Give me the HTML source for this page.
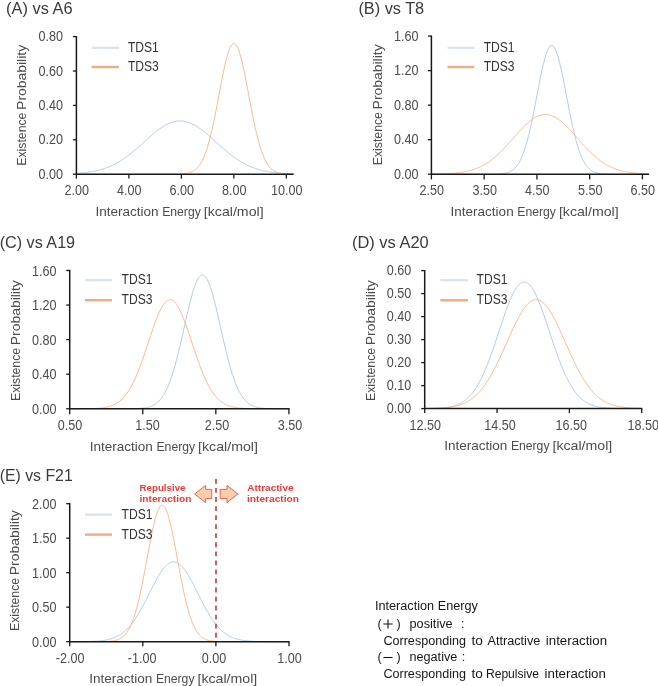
<!DOCTYPE html>
<html><head><meta charset="utf-8"><title>Interaction energy distributions</title>
<style>
html,body{margin:0;padding:0;background:#fff;}
body{width:658px;height:686px;overflow:hidden;}
svg{display:block;font-family:"Liberation Sans",sans-serif;will-change:transform;}
</style></head><body>
<svg width="658" height="686" viewBox="0 0 658 686">
<rect width="658" height="686" fill="#fff"/>
<g>
<text x="6.1" y="14.1" font-size="16.0" fill="#3a3a3a" textLength="66.5" lengthAdjust="spacingAndGlyphs">(A) vs A6</text>
<path d="M76.40,173.39 L77.24,173.34 L78.07,173.28 L78.91,173.22 L79.74,173.15 L80.58,173.08 L81.41,173.00 L82.25,172.92 L83.08,172.84 L83.92,172.75 L84.75,172.66 L85.59,172.56 L86.42,172.46 L87.26,172.35 L88.10,172.23 L88.93,172.11 L89.77,171.99 L90.60,171.85 L91.44,171.71 L92.27,171.56 L93.11,171.41 L93.94,171.25 L94.78,171.08 L95.61,170.90 L96.45,170.71 L97.28,170.52 L98.12,170.32 L98.96,170.11 L99.79,169.88 L100.63,169.65 L101.46,169.41 L102.30,169.16 L103.13,168.90 L103.97,168.63 L104.80,168.35 L105.64,168.06 L106.47,167.75 L107.31,167.44 L108.14,167.11 L108.98,166.77 L109.82,166.42 L110.65,166.06 L111.49,165.69 L112.32,165.30 L113.16,164.90 L113.99,164.49 L114.83,164.06 L115.66,163.63 L116.50,163.18 L117.33,162.71 L118.17,162.24 L119.00,161.75 L119.84,161.25 L120.68,160.73 L121.51,160.20 L122.35,159.66 L123.18,159.11 L124.02,158.54 L124.85,157.96 L125.69,157.37 L126.52,156.77 L127.36,156.16 L128.19,155.53 L129.03,154.90 L129.86,154.25 L130.70,153.59 L131.54,152.92 L132.37,152.24 L133.21,151.56 L134.04,150.86 L134.88,150.16 L135.71,149.44 L136.55,148.72 L137.38,148.00 L138.22,147.27 L139.05,146.53 L139.89,145.79 L140.72,145.04 L141.56,144.29 L142.40,143.54 L143.23,142.79 L144.07,142.03 L144.90,141.28 L145.74,140.52 L146.57,139.77 L147.41,139.02 L148.24,138.27 L149.08,137.53 L149.91,136.79 L150.75,136.06 L151.58,135.34 L152.42,134.62 L153.26,133.91 L154.09,133.21 L154.93,132.52 L155.76,131.84 L156.60,131.18 L157.43,130.53 L158.27,129.89 L159.10,129.27 L159.94,128.67 L160.77,128.08 L161.61,127.51 L162.44,126.95 L163.28,126.42 L164.12,125.91 L164.95,125.42 L165.79,124.95 L166.62,124.50 L167.46,124.08 L168.29,123.68 L169.13,123.30 L169.96,122.96 L170.80,122.63 L171.63,122.33 L172.47,122.06 L173.30,121.82 L174.14,121.60 L174.98,121.41 L175.81,121.25 L176.65,121.12 L177.48,121.02 L178.32,120.94 L179.15,120.90 L179.99,120.88 L180.82,120.89 L181.66,120.93 L182.49,121.00 L183.33,121.10 L184.16,121.23 L185.00,121.39 L185.84,121.57 L186.67,121.79 L187.51,122.03 L188.34,122.29 L189.18,122.59 L190.01,122.91 L190.85,123.25 L191.68,123.62 L192.52,124.02 L193.35,124.44 L194.19,124.88 L195.02,125.35 L195.86,125.84 L196.70,126.35 L197.53,126.88 L198.37,127.43 L199.20,127.99 L200.04,128.58 L200.87,129.18 L201.71,129.80 L202.54,130.44 L203.38,131.09 L204.21,131.75 L205.05,132.42 L205.88,133.11 L206.72,133.81 L207.56,134.51 L208.39,135.23 L209.23,135.96 L210.06,136.69 L210.90,137.42 L211.73,138.17 L212.57,138.91 L213.40,139.66 L214.24,140.41 L215.07,141.17 L215.91,141.92 L216.74,142.68 L217.58,143.43 L218.42,144.18 L219.25,144.93 L220.09,145.68 L220.92,146.42 L221.76,147.16 L222.59,147.89 L223.43,148.62 L224.26,149.34 L225.10,150.05 L225.93,150.76 L226.77,151.46 L227.60,152.14 L228.44,152.82 L229.28,153.49 L230.11,154.15 L230.95,154.80 L231.78,155.44 L232.62,156.07 L233.45,156.68 L234.29,157.29 L235.12,157.88 L235.96,158.46 L236.79,159.03 L237.63,159.58 L238.46,160.13 L239.30,160.66 L240.14,161.17 L240.97,161.68 L241.81,162.17 L242.64,162.65 L243.48,163.11 L244.31,163.56 L245.15,164.00 L245.98,164.43 L246.82,164.84 L247.65,165.24 L248.49,165.63 L249.32,166.01 L250.16,166.37 L251.00,166.72 L251.83,167.06 L252.67,167.39 L253.50,167.71 L254.34,168.01 L255.17,168.31 L256.01,168.59 L256.84,168.86 L257.68,169.13 L258.51,169.38 L259.35,169.62 L260.18,169.85 L261.02,170.07 L261.86,170.29 L262.69,170.49 L263.53,170.69 L264.36,170.87 L265.20,171.05 L266.03,171.22 L266.87,171.39 L267.70,171.54 L268.54,171.69 L269.37,171.83 L270.21,171.97 L271.04,172.09 L271.88,172.22 L272.72,172.33 L273.55,172.44 L274.39,172.55 L275.22,172.65 L276.06,172.74 L276.89,172.83 L277.73,172.91 L278.56,172.99 L279.40,173.07 L280.23,173.14 L281.07,173.21 L281.90,173.27 L282.74,173.33 L283.58,173.39 L284.41,173.44 L285.25,173.49 L286.08,173.54 L286.92,173.58 L287.75,173.62 L288.59,173.66 L289.42,173.70 L290.26,173.73 L291.09,173.77 L291.93,173.80 L292.76,173.83 L293.60,173.85" fill="none" stroke="#a8c6e5" stroke-width="0.9"/>
<path d="M76.40,174.20 L77.24,174.20 L78.07,174.20 L78.91,174.20 L79.74,174.20 L80.58,174.20 L81.41,174.20 L82.25,174.20 L83.08,174.20 L83.92,174.20 L84.75,174.20 L85.59,174.20 L86.42,174.20 L87.26,174.20 L88.10,174.20 L88.93,174.20 L89.77,174.20 L90.60,174.20 L91.44,174.20 L92.27,174.20 L93.11,174.20 L93.94,174.20 L94.78,174.20 L95.61,174.20 L96.45,174.20 L97.28,174.20 L98.12,174.20 L98.96,174.20 L99.79,174.20 L100.63,174.20 L101.46,174.20 L102.30,174.20 L103.13,174.20 L103.97,174.20 L104.80,174.20 L105.64,174.20 L106.47,174.20 L107.31,174.20 L108.14,174.20 L108.98,174.20 L109.82,174.20 L110.65,174.20 L111.49,174.20 L112.32,174.20 L113.16,174.20 L113.99,174.20 L114.83,174.20 L115.66,174.20 L116.50,174.20 L117.33,174.20 L118.17,174.20 L119.00,174.20 L119.84,174.20 L120.68,174.20 L121.51,174.20 L122.35,174.20 L123.18,174.20 L124.02,174.20 L124.85,174.20 L125.69,174.20 L126.52,174.20 L127.36,174.20 L128.19,174.20 L129.03,174.20 L129.86,174.20 L130.70,174.20 L131.54,174.20 L132.37,174.20 L133.21,174.20 L134.04,174.20 L134.88,174.20 L135.71,174.20 L136.55,174.20 L137.38,174.20 L138.22,174.20 L139.05,174.20 L139.89,174.20 L140.72,174.20 L141.56,174.20 L142.40,174.20 L143.23,174.20 L144.07,174.20 L144.90,174.20 L145.74,174.20 L146.57,174.20 L147.41,174.20 L148.24,174.20 L149.08,174.20 L149.91,174.20 L150.75,174.20 L151.58,174.20 L152.42,174.20 L153.26,174.20 L154.09,174.20 L154.93,174.20 L155.76,174.20 L156.60,174.20 L157.43,174.20 L158.27,174.20 L159.10,174.20 L159.94,174.20 L160.77,174.20 L161.61,174.20 L162.44,174.20 L163.28,174.20 L164.12,174.20 L164.95,174.20 L165.79,174.20 L166.62,174.20 L167.46,174.19 L168.29,174.19 L169.13,174.19 L169.96,174.19 L170.80,174.18 L171.63,174.18 L172.47,174.17 L173.30,174.17 L174.14,174.16 L174.98,174.15 L175.81,174.13 L176.65,174.12 L177.48,174.10 L178.32,174.08 L179.15,174.05 L179.99,174.01 L180.82,173.97 L181.66,173.92 L182.49,173.86 L183.33,173.79 L184.16,173.70 L185.00,173.60 L185.84,173.48 L186.67,173.34 L187.51,173.18 L188.34,172.98 L189.18,172.76 L190.01,172.49 L190.85,172.19 L191.68,171.84 L192.52,171.44 L193.35,170.98 L194.19,170.45 L195.02,169.85 L195.86,169.17 L196.70,168.41 L197.53,167.55 L198.37,166.58 L199.20,165.50 L200.04,164.30 L200.87,162.98 L201.71,161.51 L202.54,159.90 L203.38,158.13 L204.21,156.20 L205.05,154.10 L205.88,151.83 L206.72,149.38 L207.56,146.75 L208.39,143.93 L209.23,140.93 L210.06,137.75 L210.90,134.39 L211.73,130.86 L212.57,127.16 L213.40,123.31 L214.24,119.32 L215.07,115.20 L215.91,110.97 L216.74,106.65 L217.58,102.26 L218.42,97.83 L219.25,93.38 L220.09,88.93 L220.92,84.53 L221.76,80.20 L222.59,75.97 L223.43,71.87 L224.26,67.94 L225.10,64.20 L225.93,60.69 L226.77,57.44 L227.60,54.47 L228.44,51.81 L229.28,49.49 L230.11,47.52 L230.95,45.93 L231.78,44.73 L232.62,43.92 L233.45,43.52 L234.29,43.54 L235.12,43.97 L235.96,44.80 L236.79,46.03 L237.63,47.65 L238.46,49.64 L239.30,51.99 L240.14,54.67 L240.97,57.66 L241.81,60.94 L242.64,64.46 L243.48,68.22 L244.31,72.16 L245.15,76.27 L245.98,80.51 L246.82,84.85 L247.65,89.25 L248.49,93.69 L249.32,98.14 L250.16,102.57 L251.00,106.96 L251.83,111.27 L252.67,115.50 L253.50,119.61 L254.34,123.59 L255.17,127.43 L256.01,131.12 L256.84,134.64 L257.68,137.99 L258.51,141.15 L259.35,144.14 L260.18,146.94 L261.02,149.56 L261.86,152.00 L262.69,154.26 L263.53,156.34 L264.36,158.26 L265.20,160.02 L266.03,161.62 L266.87,163.08 L267.70,164.40 L268.54,165.58 L269.37,166.65 L270.21,167.61 L271.04,168.47 L271.88,169.22 L272.72,169.90 L273.55,170.49 L274.39,171.01 L275.22,171.47 L276.06,171.87 L276.89,172.21 L277.73,172.51 L278.56,172.77 L279.40,173.00 L280.23,173.19 L281.07,173.35 L281.90,173.49 L282.74,173.61 L283.58,173.71 L284.41,173.79 L285.25,173.87 L286.08,173.93 L286.92,173.97 L287.75,174.02 L288.59,174.05 L289.42,174.08 L290.26,174.10 L291.09,174.12 L291.93,174.14 L292.76,174.15 L293.60,174.16" fill="none" stroke="#f3b38e" stroke-width="0.9"/>
<path d="M76.40,35.90 V174.20 H293.60" fill="none" stroke="#1a1a1a" stroke-width="1.5"/>
<path d="M76.40,174.20 h-3.5" stroke="#1a1a1a" stroke-width="1.3"/>
<text x="38.4" y="178.7" font-size="14.0" fill="#4c4c4c" textLength="24.52" lengthAdjust="spacingAndGlyphs">0.00</text>
<path d="M76.40,139.80 h-3.5" stroke="#1a1a1a" stroke-width="1.3"/>
<text x="38.4" y="144.3" font-size="14.0" fill="#4c4c4c" textLength="24.52" lengthAdjust="spacingAndGlyphs">0.20</text>
<path d="M76.40,105.40 h-3.5" stroke="#1a1a1a" stroke-width="1.3"/>
<text x="38.4" y="109.9" font-size="14.0" fill="#4c4c4c" textLength="24.52" lengthAdjust="spacingAndGlyphs">0.40</text>
<path d="M76.40,71.00 h-3.5" stroke="#1a1a1a" stroke-width="1.3"/>
<text x="38.4" y="75.5" font-size="14.0" fill="#4c4c4c" textLength="24.52" lengthAdjust="spacingAndGlyphs">0.60</text>
<path d="M76.40,36.60 h-3.5" stroke="#1a1a1a" stroke-width="1.3"/>
<text x="38.4" y="41.1" font-size="14.0" fill="#4c4c4c" textLength="24.52" lengthAdjust="spacingAndGlyphs">0.80</text>
<path d="M76.40,174.20 v4.4" stroke="#1a1a1a" stroke-width="1.3"/>
<text x="64.6" y="195.0" font-size="14.0" fill="#4c4c4c" textLength="24.52" lengthAdjust="spacingAndGlyphs">2.00</text>
<path d="M128.88,174.20 v4.4" stroke="#1a1a1a" stroke-width="1.3"/>
<text x="117.1" y="195.0" font-size="14.0" fill="#4c4c4c" textLength="24.52" lengthAdjust="spacingAndGlyphs">4.00</text>
<path d="M181.36,174.20 v4.4" stroke="#1a1a1a" stroke-width="1.3"/>
<text x="169.6" y="195.0" font-size="14.0" fill="#4c4c4c" textLength="24.52" lengthAdjust="spacingAndGlyphs">6.00</text>
<path d="M233.84,174.20 v4.4" stroke="#1a1a1a" stroke-width="1.3"/>
<text x="222.1" y="195.0" font-size="14.0" fill="#4c4c4c" textLength="24.52" lengthAdjust="spacingAndGlyphs">8.00</text>
<path d="M286.32,174.20 v4.4" stroke="#1a1a1a" stroke-width="1.3"/>
<text x="271.1" y="195.0" font-size="14.0" fill="#4c4c4c" textLength="31.53" lengthAdjust="spacingAndGlyphs">10.00</text>
<text x="95.45" y="216.2" font-size="12.4" fill="#4c4c4c" textLength="63.1" lengthAdjust="spacingAndGlyphs">Interaction</text>
<text x="162.20" y="216.2" font-size="12.4" fill="#4c4c4c" textLength="38.6" lengthAdjust="spacingAndGlyphs">Energy</text>
<text x="203.80" y="216.2" font-size="12.4" fill="#4c4c4c" textLength="59.8" lengthAdjust="spacingAndGlyphs">[kcal/mol]</text>
<text transform="translate(26.3,165.70) rotate(-90)" font-size="12" fill="#4c4c4c" textLength="53.1" lengthAdjust="spacingAndGlyphs">Existence</text>
<text transform="translate(26.3,109.90) rotate(-90)" font-size="12" fill="#4c4c4c" textLength="65.0" lengthAdjust="spacingAndGlyphs">Probability</text>
<path d="M91.60,47.80 H119.00" stroke="#dbe5f1" stroke-width="2.4"/>
<text x="127.9" y="51.9" font-size="14.0" fill="#333" textLength="30.9" lengthAdjust="spacingAndGlyphs">TDS1</text>
<path d="M91.60,67.00 H119.00" stroke="#efab82" stroke-width="2.4"/>
<text x="127.9" y="71.1" font-size="14.0" fill="#333" textLength="30.9" lengthAdjust="spacingAndGlyphs">TDS3</text>
</g>
<g>
<text x="358.4" y="14.3" font-size="16.0" fill="#3a3a3a" textLength="65.8" lengthAdjust="spacingAndGlyphs">(B) vs T8</text>
<path d="M431.40,174.20 L432.24,174.20 L433.07,174.20 L433.91,174.20 L434.75,174.20 L435.59,174.20 L436.42,174.20 L437.26,174.20 L438.10,174.20 L438.94,174.20 L439.77,174.20 L440.61,174.20 L441.45,174.20 L442.28,174.20 L443.12,174.20 L443.96,174.20 L444.80,174.20 L445.63,174.20 L446.47,174.20 L447.31,174.20 L448.15,174.20 L448.98,174.20 L449.82,174.20 L450.66,174.20 L451.50,174.20 L452.33,174.20 L453.17,174.20 L454.01,174.20 L454.84,174.20 L455.68,174.20 L456.52,174.20 L457.36,174.20 L458.19,174.20 L459.03,174.20 L459.87,174.20 L460.71,174.20 L461.54,174.20 L462.38,174.20 L463.22,174.20 L464.06,174.20 L464.89,174.20 L465.73,174.20 L466.57,174.20 L467.40,174.20 L468.24,174.20 L469.08,174.20 L469.92,174.20 L470.75,174.20 L471.59,174.20 L472.43,174.20 L473.27,174.20 L474.10,174.20 L474.94,174.20 L475.78,174.20 L476.61,174.20 L477.45,174.20 L478.29,174.20 L479.13,174.20 L479.96,174.20 L480.80,174.20 L481.64,174.20 L482.48,174.20 L483.31,174.20 L484.15,174.20 L484.99,174.19 L485.82,174.19 L486.66,174.19 L487.50,174.19 L488.34,174.19 L489.17,174.18 L490.01,174.18 L490.85,174.17 L491.69,174.16 L492.52,174.15 L493.36,174.14 L494.20,174.13 L495.04,174.11 L495.87,174.09 L496.71,174.06 L497.55,174.03 L498.38,173.99 L499.22,173.94 L500.06,173.89 L500.90,173.82 L501.73,173.74 L502.57,173.65 L503.41,173.53 L504.25,173.40 L505.08,173.25 L505.92,173.06 L506.76,172.85 L507.59,172.60 L508.43,172.32 L509.27,171.99 L510.11,171.60 L510.94,171.17 L511.78,170.67 L512.62,170.10 L513.46,169.45 L514.29,168.72 L515.13,167.90 L515.97,166.98 L516.81,165.95 L517.64,164.80 L518.48,163.52 L519.32,162.11 L520.15,160.56 L520.99,158.85 L521.83,156.99 L522.67,154.97 L523.50,152.77 L524.34,150.40 L525.18,147.85 L526.02,145.11 L526.85,142.20 L527.69,139.10 L528.53,135.83 L529.37,132.39 L530.20,128.77 L531.04,125.01 L531.88,121.10 L532.71,117.06 L533.55,112.91 L534.39,108.66 L535.23,104.34 L536.06,99.98 L536.90,95.59 L537.74,91.20 L538.58,86.85 L539.41,82.55 L540.25,78.35 L541.09,74.28 L541.92,70.36 L542.76,66.63 L543.60,63.12 L544.44,59.86 L545.27,56.87 L546.11,54.19 L546.95,51.83 L547.79,49.82 L548.62,48.18 L549.46,46.92 L550.30,46.05 L551.13,45.59 L551.97,45.53 L552.81,45.89 L553.65,46.64 L554.48,47.79 L555.32,49.33 L556.16,51.24 L557.00,53.50 L557.83,56.09 L558.67,59.00 L559.51,62.19 L560.35,65.63 L561.18,69.31 L562.02,73.17 L562.86,77.21 L563.69,81.38 L564.53,85.65 L565.37,89.99 L566.21,94.37 L567.04,98.76 L567.88,103.13 L568.72,107.47 L569.56,111.74 L570.39,115.92 L571.23,119.99 L572.07,123.94 L572.90,127.74 L573.74,131.40 L574.58,134.89 L575.42,138.21 L576.25,141.36 L577.09,144.32 L577.93,147.10 L578.77,149.71 L579.60,152.13 L580.44,154.37 L581.28,156.45 L582.12,158.35 L582.95,160.10 L583.79,161.69 L584.63,163.14 L585.46,164.45 L586.30,165.64 L587.14,166.70 L587.98,167.65 L588.81,168.50 L589.65,169.26 L590.49,169.93 L591.33,170.52 L592.16,171.03 L593.00,171.49 L593.84,171.88 L594.68,172.23 L595.51,172.53 L596.35,172.79 L597.19,173.01 L598.02,173.20 L598.86,173.36 L599.70,173.50 L600.54,173.62 L601.37,173.72 L602.21,173.80 L603.05,173.87 L603.89,173.93 L604.72,173.98 L605.56,174.02 L606.40,174.05 L607.23,174.08 L608.07,174.10 L608.91,174.12 L609.75,174.14 L610.58,174.15 L611.42,174.16 L612.26,174.17 L613.10,174.17 L613.93,174.18 L614.77,174.18 L615.61,174.19 L616.45,174.19 L617.28,174.19 L618.12,174.19 L618.96,174.20 L619.79,174.20 L620.63,174.20 L621.47,174.20 L622.31,174.20 L623.14,174.20 L623.98,174.20 L624.82,174.20 L625.66,174.20 L626.49,174.20 L627.33,174.20 L628.17,174.20 L629.00,174.20 L629.84,174.20 L630.68,174.20 L631.52,174.20 L632.35,174.20 L633.19,174.20 L634.03,174.20 L634.87,174.20 L635.70,174.20 L636.54,174.20 L637.38,174.20 L638.22,174.20 L639.05,174.20 L639.89,174.20 L640.73,174.20 L641.56,174.20 L642.40,174.20 L643.24,174.20 L644.08,174.20 L644.91,174.20 L645.75,174.20 L646.59,174.20 L647.43,174.20 L648.26,174.20 L649.10,174.20" fill="none" stroke="#a8c6e5" stroke-width="0.9"/>
<path d="M431.40,174.10 L432.24,174.09 L433.07,174.08 L433.91,174.07 L434.75,174.05 L435.59,174.04 L436.42,174.03 L437.26,174.01 L438.10,173.99 L438.94,173.97 L439.77,173.95 L440.61,173.93 L441.45,173.91 L442.28,173.88 L443.12,173.85 L443.96,173.82 L444.80,173.79 L445.63,173.75 L446.47,173.71 L447.31,173.67 L448.15,173.63 L448.98,173.58 L449.82,173.53 L450.66,173.48 L451.50,173.42 L452.33,173.36 L453.17,173.29 L454.01,173.22 L454.84,173.14 L455.68,173.06 L456.52,172.97 L457.36,172.88 L458.19,172.78 L459.03,172.67 L459.87,172.56 L460.71,172.44 L461.54,172.32 L462.38,172.18 L463.22,172.04 L464.06,171.89 L464.89,171.73 L465.73,171.56 L466.57,171.39 L467.40,171.20 L468.24,171.00 L469.08,170.79 L469.92,170.57 L470.75,170.34 L471.59,170.10 L472.43,169.84 L473.27,169.57 L474.10,169.29 L474.94,169.00 L475.78,168.69 L476.61,168.36 L477.45,168.02 L478.29,167.67 L479.13,167.30 L479.96,166.92 L480.80,166.52 L481.64,166.10 L482.48,165.67 L483.31,165.22 L484.15,164.75 L484.99,164.26 L485.82,163.76 L486.66,163.24 L487.50,162.70 L488.34,162.14 L489.17,161.57 L490.01,160.97 L490.85,160.36 L491.69,159.73 L492.52,159.08 L493.36,158.41 L494.20,157.73 L495.04,157.02 L495.87,156.30 L496.71,155.57 L497.55,154.81 L498.38,154.04 L499.22,153.25 L500.06,152.44 L500.90,151.63 L501.73,150.79 L502.57,149.94 L503.41,149.08 L504.25,148.21 L505.08,147.32 L505.92,146.42 L506.76,145.52 L507.59,144.60 L508.43,143.67 L509.27,142.74 L510.11,141.80 L510.94,140.86 L511.78,139.91 L512.62,138.96 L513.46,138.01 L514.29,137.06 L515.13,136.11 L515.97,135.17 L516.81,134.22 L517.64,133.29 L518.48,132.36 L519.32,131.43 L520.15,130.52 L520.99,129.62 L521.83,128.73 L522.67,127.86 L523.50,127.00 L524.34,126.16 L525.18,125.34 L526.02,124.54 L526.85,123.76 L527.69,123.00 L528.53,122.27 L529.37,121.56 L530.20,120.88 L531.04,120.23 L531.88,119.61 L532.71,119.02 L533.55,118.46 L534.39,117.94 L535.23,117.45 L536.06,116.99 L536.90,116.57 L537.74,116.19 L538.58,115.84 L539.41,115.54 L540.25,115.27 L541.09,115.04 L541.92,114.86 L542.76,114.71 L543.60,114.60 L544.44,114.54 L545.27,114.52 L546.11,114.53 L546.95,114.59 L547.79,114.69 L548.62,114.83 L549.46,115.01 L550.30,115.23 L551.13,115.49 L551.97,115.79 L552.81,116.13 L553.65,116.51 L554.48,116.92 L555.32,117.37 L556.16,117.86 L557.00,118.38 L557.83,118.93 L558.67,119.51 L559.51,120.13 L560.35,120.78 L561.18,121.45 L562.02,122.15 L562.86,122.88 L563.69,123.64 L564.53,124.41 L565.37,125.21 L566.21,126.03 L567.04,126.87 L567.88,127.72 L568.72,128.59 L569.56,129.48 L570.39,130.38 L571.23,131.29 L572.07,132.21 L572.90,133.14 L573.74,134.07 L574.58,135.02 L575.42,135.96 L576.25,136.91 L577.09,137.86 L577.93,138.81 L578.77,139.76 L579.60,140.71 L580.44,141.65 L581.28,142.59 L582.12,143.53 L582.95,144.45 L583.79,145.37 L584.63,146.28 L585.46,147.18 L586.30,148.07 L587.14,148.94 L587.98,149.81 L588.81,150.66 L589.65,151.49 L590.49,152.32 L591.33,153.12 L592.16,153.91 L593.00,154.69 L593.84,155.45 L594.68,156.19 L595.51,156.91 L596.35,157.62 L597.19,158.31 L598.02,158.98 L598.86,159.63 L599.70,160.26 L600.54,160.88 L601.37,161.47 L602.21,162.05 L603.05,162.61 L603.89,163.16 L604.72,163.68 L605.56,164.19 L606.40,164.67 L607.23,165.14 L608.07,165.60 L608.91,166.03 L609.75,166.45 L610.58,166.86 L611.42,167.24 L612.26,167.61 L613.10,167.97 L613.93,168.31 L614.77,168.64 L615.61,168.95 L616.45,169.24 L617.28,169.53 L618.12,169.80 L618.96,170.06 L619.79,170.30 L620.63,170.54 L621.47,170.76 L622.31,170.97 L623.14,171.17 L623.98,171.36 L624.82,171.54 L625.66,171.71 L626.49,171.87 L627.33,172.02 L628.17,172.16 L629.00,172.30 L629.84,172.42 L630.68,172.54 L631.52,172.66 L632.35,172.76 L633.19,172.86 L634.03,172.96 L634.87,173.05 L635.70,173.13 L636.54,173.20 L637.38,173.28 L638.22,173.35 L639.05,173.41 L639.89,173.47 L640.73,173.52 L641.56,173.57 L642.40,173.62 L643.24,173.67 L644.08,173.71 L644.91,173.75 L645.75,173.78 L646.59,173.82 L647.43,173.85 L648.26,173.88 L649.10,173.90" fill="none" stroke="#f3b38e" stroke-width="0.9"/>
<path d="M431.40,35.40 V174.20 H649.10" fill="none" stroke="#1a1a1a" stroke-width="1.5"/>
<path d="M431.40,174.20 h-3.5" stroke="#1a1a1a" stroke-width="1.3"/>
<text x="393.9" y="178.7" font-size="14.0" fill="#4c4c4c" textLength="24.52" lengthAdjust="spacingAndGlyphs">0.00</text>
<path d="M431.40,139.67 h-3.5" stroke="#1a1a1a" stroke-width="1.3"/>
<text x="393.9" y="144.2" font-size="14.0" fill="#4c4c4c" textLength="24.52" lengthAdjust="spacingAndGlyphs">0.40</text>
<path d="M431.40,105.15 h-3.5" stroke="#1a1a1a" stroke-width="1.3"/>
<text x="393.9" y="109.6" font-size="14.0" fill="#4c4c4c" textLength="24.52" lengthAdjust="spacingAndGlyphs">0.80</text>
<path d="M431.40,70.63 h-3.5" stroke="#1a1a1a" stroke-width="1.3"/>
<text x="393.9" y="75.1" font-size="14.0" fill="#4c4c4c" textLength="24.52" lengthAdjust="spacingAndGlyphs">1.20</text>
<path d="M431.40,36.10 h-3.5" stroke="#1a1a1a" stroke-width="1.3"/>
<text x="393.9" y="40.6" font-size="14.0" fill="#4c4c4c" textLength="24.52" lengthAdjust="spacingAndGlyphs">1.60</text>
<path d="M431.40,174.20 v5.2" stroke="#1a1a1a" stroke-width="1.3"/>
<text x="419.6" y="195.0" font-size="14.0" fill="#4c4c4c" textLength="24.52" lengthAdjust="spacingAndGlyphs">2.50</text>
<path d="M484.15,174.20 v5.2" stroke="#1a1a1a" stroke-width="1.3"/>
<text x="472.4" y="195.0" font-size="14.0" fill="#4c4c4c" textLength="24.52" lengthAdjust="spacingAndGlyphs">3.50</text>
<path d="M536.90,174.20 v5.2" stroke="#1a1a1a" stroke-width="1.3"/>
<text x="525.1" y="195.0" font-size="14.0" fill="#4c4c4c" textLength="24.52" lengthAdjust="spacingAndGlyphs">4.50</text>
<path d="M589.65,174.20 v5.2" stroke="#1a1a1a" stroke-width="1.3"/>
<text x="577.9" y="195.0" font-size="14.0" fill="#4c4c4c" textLength="24.52" lengthAdjust="spacingAndGlyphs">5.50</text>
<path d="M642.40,174.20 v5.2" stroke="#1a1a1a" stroke-width="1.3"/>
<text x="630.6" y="195.0" font-size="14.0" fill="#4c4c4c" textLength="24.52" lengthAdjust="spacingAndGlyphs">6.50</text>
<text x="450.55" y="216.2" font-size="12.4" fill="#4c4c4c" textLength="63.1" lengthAdjust="spacingAndGlyphs">Interaction</text>
<text x="517.30" y="216.2" font-size="12.4" fill="#4c4c4c" textLength="38.6" lengthAdjust="spacingAndGlyphs">Energy</text>
<text x="558.90" y="216.2" font-size="12.4" fill="#4c4c4c" textLength="59.8" lengthAdjust="spacingAndGlyphs">[kcal/mol]</text>
<text transform="translate(381.8,165.20) rotate(-90)" font-size="12" fill="#4c4c4c" textLength="53.1" lengthAdjust="spacingAndGlyphs">Existence</text>
<text transform="translate(381.8,109.40) rotate(-90)" font-size="12" fill="#4c4c4c" textLength="65.0" lengthAdjust="spacingAndGlyphs">Probability</text>
<path d="M447.50,47.80 H474.40" stroke="#dbe5f1" stroke-width="2.4"/>
<text x="483.7" y="51.9" font-size="14.0" fill="#333" textLength="30.9" lengthAdjust="spacingAndGlyphs">TDS1</text>
<path d="M447.50,67.00 H474.40" stroke="#efab82" stroke-width="2.4"/>
<text x="483.7" y="71.1" font-size="14.0" fill="#333" textLength="30.9" lengthAdjust="spacingAndGlyphs">TDS3</text>
</g>
<g>
<text x="-0.3" y="247.5" font-size="16.0" fill="#3a3a3a" textLength="75.4" lengthAdjust="spacingAndGlyphs">(C) vs A19</text>
<path d="M69.70,408.75 L70.54,408.75 L71.39,408.75 L72.23,408.75 L73.07,408.75 L73.92,408.75 L74.76,408.75 L75.60,408.75 L76.44,408.75 L77.29,408.75 L78.13,408.75 L78.97,408.75 L79.82,408.75 L80.66,408.75 L81.50,408.75 L82.35,408.75 L83.19,408.75 L84.03,408.75 L84.88,408.75 L85.72,408.75 L86.56,408.75 L87.40,408.75 L88.25,408.75 L89.09,408.75 L89.93,408.75 L90.78,408.75 L91.62,408.75 L92.46,408.75 L93.31,408.75 L94.15,408.75 L94.99,408.75 L95.84,408.75 L96.68,408.75 L97.52,408.75 L98.36,408.75 L99.21,408.75 L100.05,408.75 L100.89,408.75 L101.74,408.75 L102.58,408.75 L103.42,408.75 L104.27,408.75 L105.11,408.75 L105.95,408.75 L106.80,408.75 L107.64,408.75 L108.48,408.75 L109.32,408.75 L110.17,408.75 L111.01,408.75 L111.85,408.75 L112.70,408.75 L113.54,408.75 L114.38,408.75 L115.23,408.75 L116.07,408.75 L116.91,408.75 L117.76,408.75 L118.60,408.75 L119.44,408.75 L120.28,408.74 L121.13,408.74 L121.97,408.74 L122.81,408.74 L123.66,408.74 L124.50,408.74 L125.34,408.73 L126.19,408.73 L127.03,408.72 L127.87,408.72 L128.72,408.71 L129.56,408.71 L130.40,408.70 L131.24,408.69 L132.09,408.67 L132.93,408.66 L133.77,408.64 L134.62,408.62 L135.46,408.60 L136.30,408.57 L137.15,408.53 L137.99,408.49 L138.83,408.45 L139.68,408.40 L140.52,408.34 L141.36,408.27 L142.20,408.18 L143.05,408.09 L143.89,407.99 L144.73,407.86 L145.58,407.72 L146.42,407.57 L147.26,407.39 L148.11,407.18 L148.95,406.95 L149.79,406.69 L150.64,406.40 L151.48,406.07 L152.32,405.71 L153.16,405.30 L154.01,404.84 L154.85,404.33 L155.69,403.77 L156.54,403.15 L157.38,402.46 L158.22,401.70 L159.07,400.87 L159.91,399.97 L160.75,398.97 L161.60,397.89 L162.44,396.72 L163.28,395.44 L164.12,394.07 L164.97,392.58 L165.81,390.99 L166.65,389.27 L167.50,387.44 L168.34,385.49 L169.18,383.41 L170.03,381.21 L170.87,378.87 L171.71,376.41 L172.56,373.82 L173.40,371.11 L174.24,368.27 L175.08,365.31 L175.93,362.23 L176.77,359.04 L177.61,355.75 L178.46,352.36 L179.30,348.89 L180.14,345.33 L180.99,341.71 L181.83,338.03 L182.67,334.31 L183.52,330.56 L184.36,326.80 L185.20,323.05 L186.04,319.31 L186.89,315.61 L187.73,311.96 L188.57,308.39 L189.42,304.91 L190.26,301.54 L191.10,298.29 L191.95,295.20 L192.79,292.26 L193.63,289.51 L194.48,286.95 L195.32,284.60 L196.16,282.48 L197.00,280.60 L197.85,278.97 L198.69,277.60 L199.53,276.50 L200.38,275.68 L201.22,275.13 L202.06,274.88 L202.91,274.91 L203.75,275.22 L204.59,275.83 L205.44,276.71 L206.28,277.87 L207.12,279.29 L207.96,280.98 L208.81,282.91 L209.65,285.08 L210.49,287.47 L211.34,290.08 L212.18,292.87 L213.02,295.84 L213.87,298.97 L214.71,302.24 L215.55,305.64 L216.40,309.14 L217.24,312.73 L218.08,316.39 L218.92,320.10 L219.77,323.84 L220.61,327.60 L221.45,331.36 L222.30,335.10 L223.14,338.81 L223.98,342.48 L224.83,346.09 L225.67,349.63 L226.51,353.09 L227.36,356.46 L228.20,359.73 L229.04,362.90 L229.88,365.95 L230.73,368.88 L231.57,371.69 L232.41,374.38 L233.26,376.94 L234.10,379.38 L234.94,381.68 L235.79,383.86 L236.63,385.91 L237.47,387.84 L238.32,389.65 L239.16,391.34 L240.00,392.91 L240.84,394.37 L241.69,395.72 L242.53,396.98 L243.37,398.13 L244.22,399.19 L245.06,400.17 L245.90,401.06 L246.75,401.87 L247.59,402.61 L248.43,403.28 L249.28,403.89 L250.12,404.44 L250.96,404.94 L251.80,405.39 L252.65,405.79 L253.49,406.15 L254.33,406.47 L255.18,406.75 L256.02,407.00 L256.86,407.23 L257.71,407.43 L258.55,407.60 L259.39,407.76 L260.24,407.89 L261.08,408.01 L261.92,408.11 L262.76,408.20 L263.61,408.28 L264.45,408.35 L265.29,408.41 L266.14,408.46 L266.98,408.50 L267.82,408.54 L268.67,408.57 L269.51,408.60 L270.35,408.62 L271.20,408.64 L272.04,408.66 L272.88,408.68 L273.72,408.69 L274.57,408.70 L275.41,408.71 L276.25,408.71 L277.10,408.72 L277.94,408.73 L278.78,408.73 L279.63,408.73 L280.47,408.74 L281.31,408.74 L282.16,408.74 L283.00,408.74 L283.84,408.74 L284.68,408.75 L285.53,408.75 L286.37,408.75 L287.21,408.75 L288.06,408.75 L288.90,408.75" fill="none" stroke="#a8c6e5" stroke-width="0.9"/>
<path d="M69.70,408.75 L70.54,408.75 L71.39,408.75 L72.23,408.75 L73.07,408.74 L73.92,408.74 L74.76,408.74 L75.60,408.74 L76.44,408.74 L77.29,408.74 L78.13,408.73 L78.97,408.73 L79.82,408.73 L80.66,408.73 L81.50,408.72 L82.35,408.72 L83.19,408.71 L84.03,408.70 L84.88,408.70 L85.72,408.69 L86.56,408.68 L87.40,408.67 L88.25,408.65 L89.09,408.64 L89.93,408.62 L90.78,408.60 L91.62,408.58 L92.46,408.55 L93.31,408.53 L94.15,408.49 L94.99,408.46 L95.84,408.42 L96.68,408.37 L97.52,408.32 L98.36,408.26 L99.21,408.19 L100.05,408.12 L100.89,408.03 L101.74,407.94 L102.58,407.84 L103.42,407.72 L104.27,407.60 L105.11,407.45 L105.95,407.30 L106.80,407.12 L107.64,406.93 L108.48,406.72 L109.32,406.49 L110.17,406.23 L111.01,405.96 L111.85,405.65 L112.70,405.32 L113.54,404.95 L114.38,404.55 L115.23,404.12 L116.07,403.66 L116.91,403.15 L117.76,402.60 L118.60,402.01 L119.44,401.37 L120.28,400.68 L121.13,399.95 L121.97,399.16 L122.81,398.31 L123.66,397.41 L124.50,396.45 L125.34,395.42 L126.19,394.34 L127.03,393.18 L127.87,391.96 L128.72,390.67 L129.56,389.31 L130.40,387.88 L131.24,386.38 L132.09,384.81 L132.93,383.16 L133.77,381.44 L134.62,379.65 L135.46,377.79 L136.30,375.85 L137.15,373.85 L137.99,371.78 L138.83,369.65 L139.68,367.46 L140.52,365.20 L141.36,362.90 L142.20,360.54 L143.05,358.14 L143.89,355.70 L144.73,353.22 L145.58,350.72 L146.42,348.19 L147.26,345.64 L148.11,343.09 L148.95,340.53 L149.79,337.98 L150.64,335.45 L151.48,332.94 L152.32,330.46 L153.16,328.01 L154.01,325.62 L154.85,323.28 L155.69,321.01 L156.54,318.81 L157.38,316.70 L158.22,314.67 L159.07,312.74 L159.91,310.92 L160.75,309.22 L161.60,307.63 L162.44,306.18 L163.28,304.85 L164.12,303.67 L164.97,302.63 L165.81,301.75 L166.65,301.01 L167.50,300.43 L168.34,300.02 L169.18,299.76 L170.03,299.66 L170.87,299.73 L171.71,299.96 L172.56,300.35 L173.40,300.90 L174.24,301.61 L175.08,302.47 L175.93,303.48 L176.77,304.64 L177.61,305.94 L178.46,307.38 L179.30,308.94 L180.14,310.62 L180.99,312.43 L181.83,314.33 L182.67,316.34 L183.52,318.44 L184.36,320.63 L185.20,322.89 L186.04,325.22 L186.89,327.60 L187.73,330.04 L188.57,332.51 L189.42,335.02 L190.26,337.55 L191.10,340.10 L191.95,342.65 L192.79,345.21 L193.63,347.75 L194.48,350.28 L195.32,352.80 L196.16,355.28 L197.00,357.73 L197.85,360.14 L198.69,362.50 L199.53,364.81 L200.38,367.08 L201.22,369.28 L202.06,371.42 L202.91,373.50 L203.75,375.52 L204.59,377.46 L205.44,379.33 L206.28,381.14 L207.12,382.87 L207.96,384.53 L208.81,386.12 L209.65,387.63 L210.49,389.07 L211.34,390.44 L212.18,391.75 L213.02,392.98 L213.87,394.14 L214.71,395.24 L215.55,396.28 L216.40,397.25 L217.24,398.16 L218.08,399.02 L218.92,399.82 L219.77,400.56 L220.61,401.26 L221.45,401.90 L222.30,402.50 L223.14,403.06 L223.98,403.57 L224.83,404.05 L225.67,404.48 L226.51,404.89 L227.36,405.26 L228.20,405.59 L229.04,405.91 L229.88,406.19 L230.73,406.45 L231.57,406.68 L232.41,406.90 L233.26,407.09 L234.10,407.27 L234.94,407.43 L235.79,407.57 L236.63,407.70 L237.47,407.82 L238.32,407.92 L239.16,408.02 L240.00,408.10 L240.84,408.18 L241.69,408.25 L242.53,408.31 L243.37,408.36 L244.22,408.41 L245.06,408.45 L245.90,408.49 L246.75,408.52 L247.59,408.55 L248.43,408.58 L249.28,408.60 L250.12,408.62 L250.96,408.64 L251.80,408.65 L252.65,408.66 L253.49,408.68 L254.33,408.69 L255.18,408.70 L256.02,408.70 L256.86,408.71 L257.71,408.72 L258.55,408.72 L259.39,408.72 L260.24,408.73 L261.08,408.73 L261.92,408.73 L262.76,408.74 L263.61,408.74 L264.45,408.74 L265.29,408.74 L266.14,408.74 L266.98,408.74 L267.82,408.75 L268.67,408.75 L269.51,408.75 L270.35,408.75 L271.20,408.75 L272.04,408.75 L272.88,408.75 L273.72,408.75 L274.57,408.75 L275.41,408.75 L276.25,408.75 L277.10,408.75 L277.94,408.75 L278.78,408.75 L279.63,408.75 L280.47,408.75 L281.31,408.75 L282.16,408.75 L283.00,408.75 L283.84,408.75 L284.68,408.75 L285.53,408.75 L286.37,408.75 L287.21,408.75 L288.06,408.75 L288.90,408.75" fill="none" stroke="#f3b38e" stroke-width="0.9"/>
<path d="M69.70,269.80 V408.75 H289.55" fill="none" stroke="#1a1a1a" stroke-width="1.5"/>
<path d="M69.70,408.75 h-3.5" stroke="#1a1a1a" stroke-width="1.3"/>
<text x="31.9" y="413.8" font-size="14.0" fill="#4c4c4c" textLength="24.52" lengthAdjust="spacingAndGlyphs">0.00</text>
<path d="M69.70,374.19 h-3.5" stroke="#1a1a1a" stroke-width="1.3"/>
<text x="31.9" y="379.2" font-size="14.0" fill="#4c4c4c" textLength="24.52" lengthAdjust="spacingAndGlyphs">0.40</text>
<path d="M69.70,339.62 h-3.5" stroke="#1a1a1a" stroke-width="1.3"/>
<text x="31.9" y="344.6" font-size="14.0" fill="#4c4c4c" textLength="24.52" lengthAdjust="spacingAndGlyphs">0.80</text>
<path d="M69.70,305.06 h-3.5" stroke="#1a1a1a" stroke-width="1.3"/>
<text x="31.9" y="310.1" font-size="14.0" fill="#4c4c4c" textLength="24.52" lengthAdjust="spacingAndGlyphs">1.20</text>
<path d="M69.70,270.50 h-3.5" stroke="#1a1a1a" stroke-width="1.3"/>
<text x="31.9" y="275.5" font-size="14.0" fill="#4c4c4c" textLength="24.52" lengthAdjust="spacingAndGlyphs">1.60</text>
<path d="M69.70,408.75 v5.6" stroke="#1a1a1a" stroke-width="1.3"/>
<text x="57.8" y="429.6" font-size="14.0" fill="#4c4c4c" textLength="24.52" lengthAdjust="spacingAndGlyphs">0.50</text>
<path d="M142.77,408.75 v5.6" stroke="#1a1a1a" stroke-width="1.3"/>
<text x="135.2" y="429.6" font-size="14.0" fill="#4c4c4c" textLength="24.52" lengthAdjust="spacingAndGlyphs">1.50</text>
<path d="M215.84,408.75 v5.6" stroke="#1a1a1a" stroke-width="1.3"/>
<text x="204.7" y="429.6" font-size="14.0" fill="#4c4c4c" textLength="24.52" lengthAdjust="spacingAndGlyphs">2.50</text>
<path d="M288.91,408.75 v5.6" stroke="#1a1a1a" stroke-width="1.3"/>
<text x="277.8" y="429.6" font-size="14.0" fill="#4c4c4c" textLength="24.52" lengthAdjust="spacingAndGlyphs">3.50</text>
<text x="89.75" y="451.1" font-size="12.4" fill="#4c4c4c" textLength="63.1" lengthAdjust="spacingAndGlyphs">Interaction</text>
<text x="156.50" y="451.1" font-size="12.4" fill="#4c4c4c" textLength="38.6" lengthAdjust="spacingAndGlyphs">Energy</text>
<text x="198.10" y="451.1" font-size="12.4" fill="#4c4c4c" textLength="59.8" lengthAdjust="spacingAndGlyphs">[kcal/mol]</text>
<text transform="translate(19.9,401.00) rotate(-90)" font-size="12" fill="#4c4c4c" textLength="53.1" lengthAdjust="spacingAndGlyphs">Existence</text>
<text transform="translate(19.9,345.20) rotate(-90)" font-size="12" fill="#4c4c4c" textLength="65.0" lengthAdjust="spacingAndGlyphs">Probability</text>
<path d="M85.00,280.20 H112.00" stroke="#dbe5f1" stroke-width="2.4"/>
<text x="121.6" y="284.3" font-size="14.0" fill="#333" textLength="30.9" lengthAdjust="spacingAndGlyphs">TDS1</text>
<path d="M85.00,300.20 H112.00" stroke="#efab82" stroke-width="2.4"/>
<text x="121.6" y="304.3" font-size="14.0" fill="#333" textLength="30.9" lengthAdjust="spacingAndGlyphs">TDS3</text>
</g>
<g>
<text x="352.0" y="247.5" font-size="16.0" fill="#3a3a3a" textLength="76.7" lengthAdjust="spacingAndGlyphs">(D) vs A20</text>
<path d="M424.70,408.54 L425.53,408.54 L426.37,408.53 L427.20,408.52 L428.04,408.51 L428.87,408.49 L429.71,408.48 L430.54,408.46 L431.38,408.45 L432.21,408.43 L433.05,408.41 L433.88,408.38 L434.72,408.35 L435.55,408.32 L436.38,408.29 L437.22,408.25 L438.05,408.21 L438.89,408.16 L439.72,408.11 L440.56,408.06 L441.39,408.00 L442.23,407.93 L443.06,407.85 L443.90,407.77 L444.73,407.68 L445.57,407.58 L446.40,407.47 L447.23,407.35 L448.07,407.22 L448.90,407.07 L449.74,406.92 L450.57,406.75 L451.41,406.56 L452.24,406.36 L453.08,406.14 L453.91,405.91 L454.75,405.65 L455.58,405.37 L456.42,405.07 L457.25,404.75 L458.08,404.40 L458.92,404.03 L459.75,403.62 L460.59,403.19 L461.42,402.73 L462.26,402.23 L463.09,401.70 L463.93,401.13 L464.76,400.53 L465.60,399.88 L466.43,399.20 L467.27,398.47 L468.10,397.69 L468.93,396.87 L469.77,396.01 L470.60,395.09 L471.44,394.12 L472.27,393.10 L473.11,392.03 L473.94,390.90 L474.78,389.71 L475.61,388.47 L476.45,387.17 L477.28,385.81 L478.12,384.38 L478.95,382.90 L479.78,381.36 L480.62,379.75 L481.45,378.09 L482.29,376.36 L483.12,374.57 L483.96,372.72 L484.79,370.82 L485.63,368.85 L486.46,366.83 L487.30,364.75 L488.13,362.62 L488.97,360.44 L489.80,358.20 L490.63,355.93 L491.47,353.61 L492.30,351.25 L493.14,348.85 L493.97,346.42 L494.81,343.96 L495.64,341.48 L496.48,338.98 L497.31,336.46 L498.15,333.93 L498.98,331.40 L499.82,328.87 L500.65,326.35 L501.48,323.84 L502.32,321.34 L503.15,318.88 L503.99,316.44 L504.82,314.04 L505.66,311.68 L506.49,309.37 L507.33,307.11 L508.16,304.92 L509.00,302.79 L509.83,300.74 L510.67,298.77 L511.50,296.88 L512.33,295.08 L513.17,293.38 L514.00,291.79 L514.84,290.29 L515.67,288.91 L516.51,287.65 L517.34,286.50 L518.18,285.48 L519.01,284.58 L519.85,283.82 L520.68,283.18 L521.52,282.68 L522.35,282.31 L523.18,282.08 L524.02,281.99 L524.85,282.03 L525.69,282.21 L526.52,282.53 L527.36,282.99 L528.19,283.57 L529.03,284.30 L529.86,285.15 L530.70,286.13 L531.53,287.23 L532.37,288.45 L533.20,289.79 L534.03,291.24 L534.87,292.80 L535.70,294.47 L536.54,296.23 L537.37,298.09 L538.21,300.03 L539.04,302.05 L539.88,304.15 L540.71,306.32 L541.55,308.56 L542.38,310.85 L543.22,313.19 L544.05,315.58 L544.88,318.01 L545.72,320.46 L546.55,322.95 L547.39,325.46 L548.22,327.98 L549.06,330.50 L549.89,333.03 L550.73,335.56 L551.56,338.08 L552.40,340.59 L553.23,343.08 L554.07,345.55 L554.90,347.99 L555.73,350.40 L556.57,352.77 L557.40,355.11 L558.24,357.40 L559.07,359.65 L559.91,361.85 L560.74,364.00 L561.58,366.10 L562.41,368.14 L563.25,370.12 L564.08,372.05 L564.92,373.92 L565.75,375.73 L566.58,377.48 L567.42,379.17 L568.25,380.80 L569.09,382.36 L569.92,383.86 L570.76,385.31 L571.59,386.69 L572.43,388.01 L573.26,389.28 L574.10,390.48 L574.93,391.63 L575.77,392.73 L576.60,393.77 L577.43,394.75 L578.27,395.69 L579.10,396.57 L579.94,397.41 L580.77,398.20 L581.61,398.94 L582.44,399.64 L583.28,400.30 L584.11,400.92 L584.95,401.50 L585.78,402.04 L586.62,402.55 L587.45,403.03 L588.28,403.47 L589.12,403.89 L589.95,404.27 L590.79,404.63 L591.62,404.96 L592.46,405.27 L593.29,405.55 L594.13,405.82 L594.96,406.06 L595.80,406.29 L596.63,406.49 L597.47,406.68 L598.30,406.86 L599.13,407.02 L599.97,407.17 L600.80,407.30 L601.64,407.43 L602.47,407.54 L603.31,407.64 L604.14,407.74 L604.98,407.82 L605.81,407.90 L606.65,407.97 L607.48,408.04 L608.32,408.09 L609.15,408.15 L609.98,408.19 L610.82,408.24 L611.65,408.28 L612.49,408.31 L613.32,408.34 L614.16,408.37 L614.99,408.40 L615.83,408.42 L616.66,408.44 L617.50,408.46 L618.33,408.47 L619.17,408.49 L620.00,408.50 L620.83,408.51 L621.67,408.52 L622.50,408.53 L623.34,408.54 L624.17,408.55 L625.01,408.55 L625.84,408.56 L626.68,408.57 L627.51,408.57 L628.35,408.57 L629.18,408.58 L630.02,408.58 L630.85,408.58 L631.68,408.58 L632.52,408.59 L633.35,408.59 L634.19,408.59 L635.02,408.59 L635.86,408.59 L636.69,408.59 L637.53,408.59 L638.36,408.60 L639.20,408.60 L640.03,408.60 L640.87,408.60 L641.70,408.60" fill="none" stroke="#a8c6e5" stroke-width="0.9"/>
<path d="M424.70,408.52 L425.53,408.51 L426.37,408.50 L427.20,408.49 L428.04,408.48 L428.87,408.47 L429.71,408.45 L430.54,408.43 L431.38,408.42 L432.21,408.40 L433.05,408.38 L433.88,408.35 L434.72,408.33 L435.55,408.30 L436.38,408.27 L437.22,408.23 L438.05,408.20 L438.89,408.16 L439.72,408.11 L440.56,408.07 L441.39,408.01 L442.23,407.96 L443.06,407.90 L443.90,407.83 L444.73,407.76 L445.57,407.68 L446.40,407.60 L447.23,407.50 L448.07,407.41 L448.90,407.30 L449.74,407.19 L450.57,407.06 L451.41,406.93 L452.24,406.79 L453.08,406.63 L453.91,406.47 L454.75,406.29 L455.58,406.10 L456.42,405.90 L457.25,405.69 L458.08,405.45 L458.92,405.21 L459.75,404.95 L460.59,404.67 L461.42,404.37 L462.26,404.05 L463.09,403.71 L463.93,403.36 L464.76,402.98 L465.60,402.58 L466.43,402.15 L467.27,401.70 L468.10,401.23 L468.93,400.73 L469.77,400.20 L470.60,399.64 L471.44,399.06 L472.27,398.44 L473.11,397.80 L473.94,397.12 L474.78,396.41 L475.61,395.66 L476.45,394.89 L477.28,394.07 L478.12,393.22 L478.95,392.34 L479.78,391.42 L480.62,390.46 L481.45,389.46 L482.29,388.42 L483.12,387.35 L483.96,386.23 L484.79,385.08 L485.63,383.89 L486.46,382.65 L487.30,381.38 L488.13,380.07 L488.97,378.72 L489.80,377.33 L490.63,375.90 L491.47,374.44 L492.30,372.94 L493.14,371.40 L493.97,369.83 L494.81,368.23 L495.64,366.59 L496.48,364.92 L497.31,363.23 L498.15,361.50 L498.98,359.75 L499.82,357.97 L500.65,356.18 L501.48,354.36 L502.32,352.53 L503.15,350.68 L503.99,348.82 L504.82,346.94 L505.66,345.07 L506.49,343.18 L507.33,341.30 L508.16,339.42 L509.00,337.54 L509.83,335.67 L510.67,333.82 L511.50,331.98 L512.33,330.15 L513.17,328.35 L514.00,326.57 L514.84,324.83 L515.67,323.11 L516.51,321.43 L517.34,319.79 L518.18,318.19 L519.01,316.64 L519.85,315.14 L520.68,313.69 L521.52,312.29 L522.35,310.95 L523.18,309.68 L524.02,308.47 L524.85,307.33 L525.69,306.26 L526.52,305.26 L527.36,304.33 L528.19,303.48 L529.03,302.71 L529.86,302.03 L530.70,301.42 L531.53,300.90 L532.37,300.46 L533.20,300.11 L534.03,299.85 L534.87,299.68 L535.70,299.59 L536.54,299.59 L537.37,299.68 L538.21,299.86 L539.04,300.13 L539.88,300.48 L540.71,300.92 L541.55,301.44 L542.38,302.05 L543.22,302.75 L544.05,303.52 L544.88,304.37 L545.72,305.30 L546.55,306.30 L547.39,307.37 L548.22,308.52 L549.06,309.73 L549.89,311.01 L550.73,312.35 L551.56,313.75 L552.40,315.20 L553.23,316.70 L554.07,318.26 L554.90,319.86 L555.73,321.50 L556.57,323.18 L557.40,324.90 L558.24,326.65 L559.07,328.43 L559.91,330.23 L560.74,332.05 L561.58,333.90 L562.41,335.75 L563.25,337.62 L564.08,339.50 L564.92,341.38 L565.75,343.26 L566.58,345.15 L567.42,347.02 L568.25,348.89 L569.09,350.76 L569.92,352.60 L570.76,354.44 L571.59,356.25 L572.43,358.05 L573.26,359.82 L574.10,361.57 L574.93,363.30 L575.77,364.99 L576.60,366.66 L577.43,368.30 L578.27,369.90 L579.10,371.47 L579.94,373.00 L580.77,374.50 L581.61,375.97 L582.44,377.39 L583.28,378.78 L584.11,380.13 L584.95,381.44 L585.78,382.71 L586.62,383.94 L587.45,385.13 L588.28,386.28 L589.12,387.39 L589.95,388.47 L590.79,389.50 L591.62,390.50 L592.46,391.46 L593.29,392.38 L594.13,393.26 L594.96,394.11 L595.80,394.92 L596.63,395.70 L597.47,396.44 L598.30,397.15 L599.13,397.82 L599.97,398.47 L600.80,399.08 L601.64,399.67 L602.47,400.22 L603.31,400.75 L604.14,401.25 L604.98,401.72 L605.81,402.17 L606.65,402.59 L607.48,402.99 L608.32,403.37 L609.15,403.73 L609.98,404.06 L610.82,404.38 L611.65,404.68 L612.49,404.96 L613.32,405.22 L614.16,405.47 L614.99,405.70 L615.83,405.91 L616.66,406.11 L617.50,406.30 L618.33,406.48 L619.17,406.64 L620.00,406.79 L620.83,406.94 L621.67,407.07 L622.50,407.19 L623.34,407.30 L624.17,407.41 L625.01,407.51 L625.84,407.60 L626.68,407.68 L627.51,407.76 L628.35,407.83 L629.18,407.90 L630.02,407.96 L630.85,408.02 L631.68,408.07 L632.52,408.11 L633.35,408.16 L634.19,408.20 L635.02,408.24 L635.86,408.27 L636.69,408.30 L637.53,408.33 L638.36,408.35 L639.20,408.38 L640.03,408.40 L640.87,408.42 L641.70,408.44" fill="none" stroke="#f3b38e" stroke-width="0.9"/>
<path d="M424.70,269.90 V408.60 H642.35" fill="none" stroke="#1a1a1a" stroke-width="1.5"/>
<path d="M424.70,408.60 h-3.5" stroke="#1a1a1a" stroke-width="1.3"/>
<text x="386.7" y="413.1" font-size="14.0" fill="#4c4c4c" textLength="24.52" lengthAdjust="spacingAndGlyphs">0.00</text>
<path d="M424.70,385.60 h-3.5" stroke="#1a1a1a" stroke-width="1.3"/>
<text x="386.7" y="390.1" font-size="14.0" fill="#4c4c4c" textLength="24.52" lengthAdjust="spacingAndGlyphs">0.10</text>
<path d="M424.70,362.60 h-3.5" stroke="#1a1a1a" stroke-width="1.3"/>
<text x="386.7" y="367.1" font-size="14.0" fill="#4c4c4c" textLength="24.52" lengthAdjust="spacingAndGlyphs">0.20</text>
<path d="M424.70,339.60 h-3.5" stroke="#1a1a1a" stroke-width="1.3"/>
<text x="386.7" y="344.1" font-size="14.0" fill="#4c4c4c" textLength="24.52" lengthAdjust="spacingAndGlyphs">0.30</text>
<path d="M424.70,316.60 h-3.5" stroke="#1a1a1a" stroke-width="1.3"/>
<text x="386.7" y="321.1" font-size="14.0" fill="#4c4c4c" textLength="24.52" lengthAdjust="spacingAndGlyphs">0.40</text>
<path d="M424.70,293.60 h-3.5" stroke="#1a1a1a" stroke-width="1.3"/>
<text x="386.7" y="298.1" font-size="14.0" fill="#4c4c4c" textLength="24.52" lengthAdjust="spacingAndGlyphs">0.50</text>
<path d="M424.70,270.60 h-3.5" stroke="#1a1a1a" stroke-width="1.3"/>
<text x="386.7" y="275.1" font-size="14.0" fill="#4c4c4c" textLength="24.52" lengthAdjust="spacingAndGlyphs">0.60</text>
<path d="M424.70,408.60 v4.5" stroke="#1a1a1a" stroke-width="1.3"/>
<text x="409.5" y="429.6" font-size="14.0" fill="#4c4c4c" textLength="31.53" lengthAdjust="spacingAndGlyphs">12.50</text>
<path d="M497.04,408.60 v4.5" stroke="#1a1a1a" stroke-width="1.3"/>
<text x="484.3" y="429.6" font-size="14.0" fill="#4c4c4c" textLength="31.53" lengthAdjust="spacingAndGlyphs">14.50</text>
<path d="M569.38,408.60 v4.5" stroke="#1a1a1a" stroke-width="1.3"/>
<text x="555.4" y="429.6" font-size="14.0" fill="#4c4c4c" textLength="31.53" lengthAdjust="spacingAndGlyphs">16.50</text>
<path d="M641.72,408.60 v4.5" stroke="#1a1a1a" stroke-width="1.3"/>
<text x="627.5" y="429.6" font-size="14.0" fill="#4c4c4c" textLength="31.53" lengthAdjust="spacingAndGlyphs">18.50</text>
<text x="444.15" y="450.2" font-size="12.4" fill="#4c4c4c" textLength="63.1" lengthAdjust="spacingAndGlyphs">Interaction</text>
<text x="510.90" y="450.2" font-size="12.4" fill="#4c4c4c" textLength="38.6" lengthAdjust="spacingAndGlyphs">Energy</text>
<text x="552.50" y="450.2" font-size="12.4" fill="#4c4c4c" textLength="59.8" lengthAdjust="spacingAndGlyphs">[kcal/mol]</text>
<text transform="translate(375.2,401.00) rotate(-90)" font-size="12" fill="#4c4c4c" textLength="53.1" lengthAdjust="spacingAndGlyphs">Existence</text>
<text transform="translate(375.2,345.20) rotate(-90)" font-size="12" fill="#4c4c4c" textLength="65.0" lengthAdjust="spacingAndGlyphs">Probability</text>
<path d="M440.40,280.20 H467.90" stroke="#dbe5f1" stroke-width="2.4"/>
<text x="476.6" y="284.3" font-size="14.0" fill="#333" textLength="30.9" lengthAdjust="spacingAndGlyphs">TDS1</text>
<path d="M440.40,300.30 H467.90" stroke="#efab82" stroke-width="2.4"/>
<text x="476.6" y="304.4" font-size="14.0" fill="#333" textLength="30.9" lengthAdjust="spacingAndGlyphs">TDS3</text>
</g>
<g>
<text x="-0.3" y="480.8" font-size="16.0" fill="#3a3a3a" textLength="73.0" lengthAdjust="spacingAndGlyphs">(E) vs F21</text>
<path d="M69.70,641.64 L70.54,641.64 L71.39,641.64 L72.23,641.64 L73.07,641.64 L73.92,641.63 L74.76,641.63 L75.60,641.63 L76.45,641.62 L77.29,641.62 L78.13,641.62 L78.98,641.61 L79.82,641.61 L80.66,641.60 L81.51,641.59 L82.35,641.58 L83.20,641.58 L84.04,641.57 L84.88,641.55 L85.73,641.54 L86.57,641.53 L87.41,641.51 L88.26,641.49 L89.10,641.47 L89.94,641.45 L90.79,641.42 L91.63,641.39 L92.47,641.36 L93.32,641.32 L94.16,641.28 L95.00,641.24 L95.85,641.19 L96.69,641.14 L97.53,641.08 L98.38,641.01 L99.22,640.94 L100.06,640.86 L100.91,640.77 L101.75,640.68 L102.60,640.57 L103.44,640.45 L104.28,640.33 L105.13,640.19 L105.97,640.04 L106.81,639.88 L107.66,639.70 L108.50,639.51 L109.34,639.30 L110.19,639.07 L111.03,638.82 L111.87,638.56 L112.72,638.27 L113.56,637.97 L114.40,637.64 L115.25,637.28 L116.09,636.90 L116.93,636.50 L117.78,636.06 L118.62,635.60 L119.46,635.10 L120.31,634.58 L121.15,634.02 L121.99,633.42 L122.84,632.79 L123.68,632.13 L124.53,631.43 L125.37,630.68 L126.21,629.90 L127.06,629.08 L127.90,628.22 L128.74,627.31 L129.59,626.36 L130.43,625.37 L131.27,624.34 L132.12,623.26 L132.96,622.14 L133.80,620.98 L134.65,619.78 L135.49,618.53 L136.33,617.24 L137.18,615.91 L138.02,614.54 L138.86,613.13 L139.71,611.69 L140.55,610.21 L141.39,608.70 L142.24,607.15 L143.08,605.58 L143.92,603.98 L144.77,602.36 L145.61,600.72 L146.46,599.07 L147.30,597.40 L148.14,595.72 L148.99,594.03 L149.83,592.35 L150.67,590.66 L151.52,588.98 L152.36,587.32 L153.20,585.66 L154.05,584.03 L154.89,582.42 L155.73,580.84 L156.58,579.30 L157.42,577.79 L158.26,576.33 L159.11,574.91 L159.95,573.55 L160.79,572.24 L161.64,570.99 L162.48,569.81 L163.32,568.70 L164.17,567.66 L165.01,566.69 L165.85,565.81 L166.70,565.01 L167.54,564.29 L168.39,563.66 L169.23,563.12 L170.07,562.68 L170.92,562.33 L171.76,562.07 L172.60,561.91 L173.45,561.85 L174.29,561.88 L175.13,562.01 L175.98,562.24 L176.82,562.56 L177.66,562.98 L178.51,563.49 L179.35,564.09 L180.19,564.78 L181.04,565.55 L181.88,566.41 L182.72,567.35 L183.57,568.37 L184.41,569.46 L185.25,570.62 L186.10,571.85 L186.94,573.14 L187.78,574.49 L188.63,575.89 L189.47,577.34 L190.31,578.83 L191.16,580.37 L192.00,581.93 L192.85,583.53 L193.69,585.16 L194.53,586.81 L195.38,588.47 L196.22,590.15 L197.06,591.83 L197.91,593.52 L198.75,595.20 L199.59,596.88 L200.44,598.56 L201.28,600.22 L202.12,601.86 L202.97,603.49 L203.81,605.09 L204.65,606.67 L205.50,608.23 L206.34,609.75 L207.18,611.24 L208.03,612.69 L208.87,614.11 L209.71,615.49 L210.56,616.83 L211.40,618.14 L212.25,619.40 L213.09,620.62 L213.93,621.79 L214.78,622.92 L215.62,624.01 L216.46,625.06 L217.31,626.06 L218.15,627.03 L218.99,627.94 L219.84,628.82 L220.68,629.65 L221.52,630.45 L222.37,631.20 L223.21,631.92 L224.05,632.59 L224.90,633.23 L225.74,633.84 L226.58,634.41 L227.43,634.95 L228.27,635.45 L229.11,635.92 L229.96,636.37 L230.80,636.78 L231.64,637.17 L232.49,637.53 L233.33,637.87 L234.18,638.18 L235.02,638.47 L235.86,638.75 L236.71,639.00 L237.55,639.23 L238.39,639.44 L239.24,639.64 L240.08,639.82 L240.92,639.99 L241.77,640.15 L242.61,640.29 L243.45,640.42 L244.30,640.54 L245.14,640.64 L245.98,640.74 L246.83,640.83 L247.67,640.92 L248.51,640.99 L249.36,641.06 L250.20,641.12 L251.04,641.18 L251.89,641.23 L252.73,641.27 L253.57,641.31 L254.42,641.35 L255.26,641.38 L256.11,641.41 L256.95,641.44 L257.79,641.46 L258.64,641.48 L259.48,641.50 L260.32,641.52 L261.17,641.54 L262.01,641.55 L262.85,641.56 L263.70,641.57 L264.54,641.58 L265.38,641.59 L266.23,641.60 L267.07,641.60 L267.91,641.61 L268.76,641.62 L269.60,641.62 L270.44,641.62 L271.29,641.63 L272.13,641.63 L272.97,641.63 L273.82,641.64 L274.66,641.64 L275.50,641.64 L276.35,641.64 L277.19,641.64 L278.04,641.64 L278.88,641.64 L279.72,641.64 L280.57,641.65 L281.41,641.65 L282.25,641.65 L283.10,641.65 L283.94,641.65 L284.78,641.65 L285.63,641.65 L286.47,641.65 L287.31,641.65 L288.16,641.65 L289.00,641.65" fill="none" stroke="#a8c6e5" stroke-width="0.9"/>
<path d="M69.70,641.65 L70.54,641.65 L71.39,641.65 L72.23,641.65 L73.07,641.65 L73.92,641.65 L74.76,641.65 L75.60,641.65 L76.45,641.65 L77.29,641.65 L78.13,641.65 L78.98,641.65 L79.82,641.65 L80.66,641.65 L81.51,641.65 L82.35,641.65 L83.20,641.65 L84.04,641.65 L84.88,641.65 L85.73,641.65 L86.57,641.65 L87.41,641.65 L88.26,641.65 L89.10,641.65 L89.94,641.65 L90.79,641.65 L91.63,641.65 L92.47,641.65 L93.32,641.65 L94.16,641.64 L95.00,641.64 L95.85,641.64 L96.69,641.64 L97.53,641.63 L98.38,641.63 L99.22,641.62 L100.06,641.62 L100.91,641.61 L101.75,641.60 L102.60,641.59 L103.44,641.57 L104.28,641.55 L105.13,641.53 L105.97,641.50 L106.81,641.47 L107.66,641.43 L108.50,641.38 L109.34,641.32 L110.19,641.26 L111.03,641.17 L111.87,641.08 L112.72,640.96 L113.56,640.83 L114.40,640.67 L115.25,640.48 L116.09,640.27 L116.93,640.02 L117.78,639.73 L118.62,639.39 L119.46,639.01 L120.31,638.57 L121.15,638.07 L121.99,637.50 L122.84,636.85 L123.68,636.11 L124.53,635.29 L125.37,634.36 L126.21,633.33 L127.06,632.18 L127.90,630.90 L128.74,629.49 L129.59,627.93 L130.43,626.22 L131.27,624.35 L132.12,622.32 L132.96,620.11 L133.80,617.73 L134.65,615.16 L135.49,612.41 L136.33,609.47 L137.18,606.34 L138.02,603.03 L138.86,599.53 L139.71,595.87 L140.55,592.03 L141.39,588.04 L142.24,583.91 L143.08,579.65 L143.92,575.28 L144.77,570.82 L145.61,566.29 L146.46,561.72 L147.30,557.14 L148.14,552.56 L148.99,548.03 L149.83,543.56 L150.67,539.20 L151.52,534.98 L152.36,530.92 L153.20,527.06 L154.05,523.43 L154.89,520.06 L155.73,516.98 L156.58,514.21 L157.42,511.78 L158.26,509.72 L159.11,508.03 L159.95,506.73 L160.79,505.85 L161.64,505.37 L162.48,505.31 L163.32,505.68 L164.17,506.46 L165.01,507.64 L165.85,509.23 L166.70,511.20 L167.54,513.53 L168.39,516.21 L169.23,519.21 L170.07,522.51 L170.92,526.07 L171.76,529.87 L172.60,533.88 L173.45,538.06 L174.29,542.39 L175.13,546.83 L175.98,551.35 L176.82,555.91 L177.66,560.50 L178.51,565.08 L179.35,569.62 L180.19,574.10 L181.04,578.50 L181.88,582.79 L182.72,586.95 L183.57,590.98 L184.41,594.86 L185.25,598.57 L186.10,602.11 L186.94,605.47 L187.78,608.65 L188.63,611.64 L189.47,614.44 L190.31,617.06 L191.16,619.49 L192.00,621.75 L192.85,623.83 L193.69,625.74 L194.53,627.49 L195.38,629.09 L196.22,630.54 L197.06,631.85 L197.91,633.03 L198.75,634.10 L199.59,635.05 L200.44,635.90 L201.28,636.66 L202.12,637.33 L202.97,637.92 L203.81,638.44 L204.65,638.90 L205.50,639.30 L206.34,639.64 L207.18,639.95 L208.03,640.21 L208.87,640.43 L209.71,640.62 L210.56,640.79 L211.40,640.93 L212.25,641.05 L213.09,641.15 L213.93,641.23 L214.78,641.31 L215.62,641.37 L216.46,641.42 L217.31,641.46 L218.15,641.49 L218.99,641.52 L219.84,641.55 L220.68,641.57 L221.52,641.58 L222.37,641.60 L223.21,641.61 L224.05,641.62 L224.90,641.62 L225.74,641.63 L226.58,641.63 L227.43,641.64 L228.27,641.64 L229.11,641.64 L229.96,641.64 L230.80,641.64 L231.64,641.65 L232.49,641.65 L233.33,641.65 L234.18,641.65 L235.02,641.65 L235.86,641.65 L236.71,641.65 L237.55,641.65 L238.39,641.65 L239.24,641.65 L240.08,641.65 L240.92,641.65 L241.77,641.65 L242.61,641.65 L243.45,641.65 L244.30,641.65 L245.14,641.65 L245.98,641.65 L246.83,641.65 L247.67,641.65 L248.51,641.65 L249.36,641.65 L250.20,641.65 L251.04,641.65 L251.89,641.65 L252.73,641.65 L253.57,641.65 L254.42,641.65 L255.26,641.65 L256.11,641.65 L256.95,641.65 L257.79,641.65 L258.64,641.65 L259.48,641.65 L260.32,641.65 L261.17,641.65 L262.01,641.65 L262.85,641.65 L263.70,641.65 L264.54,641.65 L265.38,641.65 L266.23,641.65 L267.07,641.65 L267.91,641.65 L268.76,641.65 L269.60,641.65 L270.44,641.65 L271.29,641.65 L272.13,641.65 L272.97,641.65 L273.82,641.65 L274.66,641.65 L275.50,641.65 L276.35,641.65 L277.19,641.65 L278.04,641.65 L278.88,641.65 L279.72,641.65 L280.57,641.65 L281.41,641.65 L282.25,641.65 L283.10,641.65 L283.94,641.65 L284.78,641.65 L285.63,641.65 L286.47,641.65 L287.31,641.65 L288.16,641.65 L289.00,641.65" fill="none" stroke="#f3b38e" stroke-width="0.9"/>
<path d="M69.70,503.00 V641.65 H289.65" fill="none" stroke="#1a1a1a" stroke-width="1.5"/>
<path d="M69.70,641.65 h-3.5" stroke="#1a1a1a" stroke-width="1.3"/>
<text x="31.9" y="646.6" font-size="14.0" fill="#4c4c4c" textLength="24.52" lengthAdjust="spacingAndGlyphs">0.00</text>
<path d="M69.70,607.16 h-3.5" stroke="#1a1a1a" stroke-width="1.3"/>
<text x="31.9" y="612.2" font-size="14.0" fill="#4c4c4c" textLength="24.52" lengthAdjust="spacingAndGlyphs">0.50</text>
<path d="M69.70,572.67 h-3.5" stroke="#1a1a1a" stroke-width="1.3"/>
<text x="31.9" y="577.7" font-size="14.0" fill="#4c4c4c" textLength="24.52" lengthAdjust="spacingAndGlyphs">1.00</text>
<path d="M69.70,538.19 h-3.5" stroke="#1a1a1a" stroke-width="1.3"/>
<text x="31.9" y="543.2" font-size="14.0" fill="#4c4c4c" textLength="24.52" lengthAdjust="spacingAndGlyphs">1.50</text>
<path d="M69.70,503.70 h-3.5" stroke="#1a1a1a" stroke-width="1.3"/>
<text x="31.9" y="508.7" font-size="14.0" fill="#4c4c4c" textLength="24.52" lengthAdjust="spacingAndGlyphs">2.00</text>
<path d="M69.70,641.65 v4.5" stroke="#1a1a1a" stroke-width="1.3"/>
<text x="55.7" y="662.7" font-size="14.0" fill="#4c4c4c" textLength="28.72" lengthAdjust="spacingAndGlyphs">-2.00</text>
<path d="M142.80,641.65 v4.5" stroke="#1a1a1a" stroke-width="1.3"/>
<text x="127.7" y="662.7" font-size="14.0" fill="#4c4c4c" textLength="28.72" lengthAdjust="spacingAndGlyphs">-1.00</text>
<path d="M215.90,641.65 v4.5" stroke="#1a1a1a" stroke-width="1.3"/>
<text x="201.7" y="662.7" font-size="14.0" fill="#4c4c4c" textLength="24.52" lengthAdjust="spacingAndGlyphs">0.00</text>
<path d="M289.00,641.65 v4.5" stroke="#1a1a1a" stroke-width="1.3"/>
<text x="277.3" y="662.7" font-size="14.0" fill="#4c4c4c" textLength="24.52" lengthAdjust="spacingAndGlyphs">1.00</text>
<text x="89.15" y="683.3" font-size="12.4" fill="#4c4c4c" textLength="63.1" lengthAdjust="spacingAndGlyphs">Interaction</text>
<text x="155.90" y="683.3" font-size="12.4" fill="#4c4c4c" textLength="38.6" lengthAdjust="spacingAndGlyphs">Energy</text>
<text x="197.50" y="683.3" font-size="12.4" fill="#4c4c4c" textLength="59.8" lengthAdjust="spacingAndGlyphs">[kcal/mol]</text>
<text transform="translate(19.3,631.00) rotate(-90)" font-size="12" fill="#4c4c4c" textLength="53.1" lengthAdjust="spacingAndGlyphs">Existence</text>
<text transform="translate(19.3,575.20) rotate(-90)" font-size="12" fill="#4c4c4c" textLength="65.0" lengthAdjust="spacingAndGlyphs">Probability</text>
<path d="M85.00,514.70 H112.00" stroke="#dbe5f1" stroke-width="2.4"/>
<text x="121.6" y="518.8" font-size="14.0" fill="#333" textLength="30.9" lengthAdjust="spacingAndGlyphs">TDS1</text>
<path d="M85.00,534.60 H112.00" stroke="#efab82" stroke-width="2.4"/>
<text x="121.6" y="538.7" font-size="14.0" fill="#333" textLength="30.9" lengthAdjust="spacingAndGlyphs">TDS3</text>
</g>
<!-- red dashed line panel E -->
<path d="M216.0,479.0 V641.4" stroke="#cb4f4a" stroke-width="1.8" stroke-dasharray="4.8,4.25" fill="none"/>
<!-- arrows -->
<path d="M194.6,494.0 L205.6,485.4 L205.6,489.4 L211.7,489.4 L211.7,498.6 L205.6,498.6 L205.6,502.6 Z" fill="#f9cfb0" stroke="#e8644c" stroke-width="1" stroke-linejoin="miter"/>
<path d="M237.8,494.0 L227.0,485.4 L227.0,489.4 L220.2,489.4 L220.2,498.6 L227.0,498.6 L227.0,502.6 Z" fill="#f9cfb0" stroke="#e8644c" stroke-width="1" stroke-linejoin="miter"/>
<g font-size="9.5" font-weight="bold" fill="#ee3a36">
<text x="139.5" y="490.9" textLength="46.0" lengthAdjust="spacingAndGlyphs">Repulsive</text>
<text x="139.5" y="502.0" textLength="51.9" lengthAdjust="spacingAndGlyphs">interaction</text>
<text x="247.2" y="490.9" textLength="46.4" lengthAdjust="spacingAndGlyphs">Attractive</text>
<text x="247.0" y="502.0" textLength="51.9" lengthAdjust="spacingAndGlyphs">interaction</text>
</g>
<g font-size="12.5" fill="#161616">
<text x="374.9" y="610.2" textLength="103" lengthAdjust="spacingAndGlyphs">Interaction Energy</text>
<text x="377.6" y="627.9">(</text><text x="396.4" y="627.9">)</text>
<path d="M383.4,624 H392.6 M388,619.4 V628.6" stroke="#161616" stroke-width="1.1" fill="none"/>
<text x="409.5" y="627.9" textLength="43.2" lengthAdjust="spacingAndGlyphs">positive</text>
<text x="461.0" y="627.9">:</text>
<text x="383.4" y="644.8" textLength="82.6" lengthAdjust="spacingAndGlyphs">Corresponding</text>
<text x="471.5" y="644.8" textLength="11.4" lengthAdjust="spacingAndGlyphs">to</text>
<text x="487.5" y="644.8" textLength="52.8" lengthAdjust="spacingAndGlyphs">Attractive</text>
<text x="545.8" y="644.8" textLength="61.3" lengthAdjust="spacingAndGlyphs">interaction</text>
<text x="377.6" y="661.4">(</text><text x="396.4" y="661.4">)</text>
<path d="M383.4,657.5 H392.6" stroke="#161616" stroke-width="1.1" fill="none"/>
<text x="409.5" y="661.4" textLength="47.8" lengthAdjust="spacingAndGlyphs">negative</text>
<text x="461.8" y="661.4">:</text>
<text x="383.4" y="678.2" textLength="82.6" lengthAdjust="spacingAndGlyphs">Corresponding</text>
<text x="471.5" y="678.2" textLength="11.4" lengthAdjust="spacingAndGlyphs">to</text>
<text x="485.9" y="678.2" textLength="53.2" lengthAdjust="spacingAndGlyphs">Repulsive</text>
<text x="544.6" y="678.2" textLength="61.3" lengthAdjust="spacingAndGlyphs">interaction</text>
</g>

</svg>
</body></html>
